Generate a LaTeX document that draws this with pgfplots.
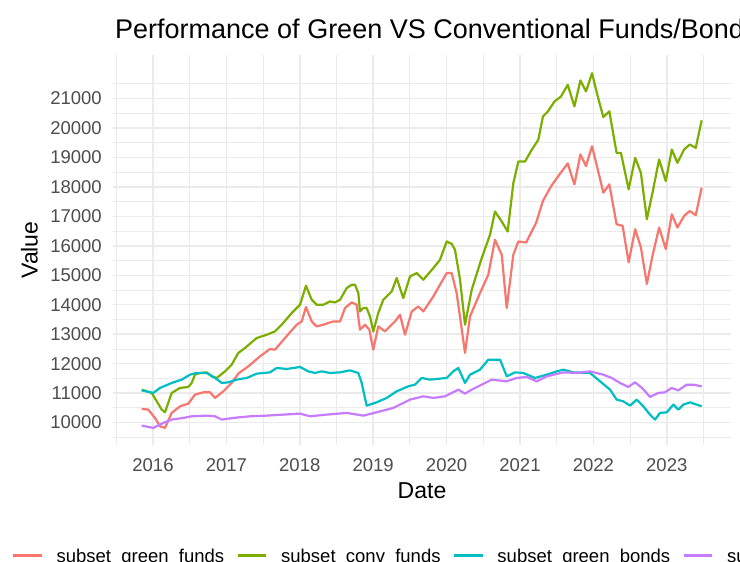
\documentclass[border=0pt]{standalone}
\usepackage{pgfplots}
\pgfplotsset{compat=1.18}
\usepackage{fontspec}
\setmainfont{Liberation Sans}
\definecolor{cRed}{HTML}{F8766D}
\definecolor{cGreen}{HTML}{7CAE00}
\definecolor{cCyan}{HTML}{00BFC4}
\definecolor{cPurple}{HTML}{C77CFF}
\definecolor{gridc}{HTML}{EBEBEB}
\definecolor{tickc}{HTML}{4D4D4D}
\begin{document}
\begin{tikzpicture}
\path[use as bounding box, fill=white] (0,0) rectangle (740bp,562bp);
\clip (0,0) rectangle (740bp,562bp);
\begin{axis}[
  at={(113.4bp,117bp)}, anchor=south west,
  width=617.2bp, height=390bp, scale only axis,
  xmin=2015.4605, xmax=2023.869,
  ymin=9240, ymax=22475,
  axis line style={draw=none},
  tick style={draw=none},
  xtick={2016,2017,...,2023},
  minor xtick={2015.5,2016.5,...,2023.5},
  ytick={10000,11000,...,21000},
  minor ytick={9500,10500,...,22000},
  grid=both,
  major grid style={gridc, line width=1.5bp},
  minor grid style={gridc, line width=0.8bp},
  scaled x ticks=false,
  scaled y ticks=false,
  /pgf/number format/assume math mode=true,
  /pgf/number format/1000 sep={},
  tick label style={font=\fontsize{18.5bp}{20bp}\selectfont, text=tickc, inner sep=0pt},
  yticklabel shift=11.5bp,
  xticklabel shift=13bp,
  xlabel={Date},
  ylabel={Value},
  label style={font=\fontsize{23bp}{26bp}\selectfont, inner sep=0pt},
  xlabel style={at={(axis description cs:0.5,-0.0949)}, anchor=north},
  ylabel style={at={(axis description cs:-0.1222,0.5)}, anchor=south},
  title={Performance of Green VS Conventional Funds/Bonds},
  title style={at={(axis description cs:0.0026,1.0282)}, anchor=base west, inner sep=0pt, font=\fontsize{27bp}{30bp}\selectfont},
  legend columns=4,
  legend style={at={(axis description cs:-0.16478,-0.3049)}, anchor=south west,
    draw=none, fill=none, inner sep=0pt, outer sep=0pt,
    nodes={inner sep=0pt}, font=\fontsize{18.5bp}{20bp}\selectfont,
    /tikz/every odd column/.append style={column sep=13.5bp},
    /tikz/every even column/.append style={column sep=12bp}},
  legend cell align=left,
  legend image code/.code={\draw[#1, line width=2.6bp] (0bp,1bp) -- (28.8bp,1bp);},
  every axis plot/.append style={line width=2.2bp, line join=round, no markers},
]
% subset green funds
\addplot[cRed] coordinates {
(2015.846,10464) (2015.936,10441) (2016.027,10159) (2016.095,9875) (2016.163,9820)
(2016.255,10329) (2016.368,10553) (2016.481,10644) (2016.572,10949) (2016.685,11027)
(2016.777,11027) (2016.845,10837) (2016.958,11061) (2017.072,11346) (2017.162,11661)
(2017.298,11909) (2017.458,12248) (2017.594,12498) (2017.662,12475) (2017.798,12871)
(2017.958,13322) (2018.026,13434) (2018.084,13922) (2018.162,13434) (2018.230,13265)
(2018.320,13322) (2018.456,13434) (2018.548,13434) (2018.616,13888) (2018.707,14078)
(2018.775,14000) (2018.820,13153) (2018.888,13322) (2018.947,13153) (2019.001,12475)
(2019.069,13265) (2019.161,13095) (2019.297,13434) (2019.365,13661) (2019.433,12983)
(2019.525,13773) (2019.614,13943) (2019.683,13773) (2019.819,14282) (2019.910,14678)
(2020.001,15075) (2020.069,15075) (2020.137,14397) (2020.251,12363) (2020.319,13604)
(2020.455,14397) (2020.568,15017) (2020.659,16204) (2020.751,15695) (2020.819,13888)
(2020.909,15695) (2020.977,16146) (2021.084,16112) (2021.221,16790) (2021.313,17526)
(2021.425,18027) (2021.538,18424) (2021.650,18794) (2021.741,18085) (2021.823,19099)
(2021.899,18705) (2021.981,19380) (2022.059,18590) (2022.135,17804) (2022.217,18085)
(2022.316,16732) (2022.398,16675) (2022.480,15437) (2022.569,16563) (2022.647,15946)
(2022.728,14705) (2022.805,15661) (2022.895,16621) (2022.986,15888) (2023.068,17071)
(2023.144,16621) (2023.236,17014) (2023.312,17183) (2023.394,17038) (2023.475,17973)
};
\addlegendentry{subset\_green\_funds}
% subset conv funds
\addplot[cGreen] coordinates {
(2015.846,11119) (2015.982,11007) (2016.119,10441) (2016.163,10349) (2016.255,11007)
(2016.368,11176) (2016.481,11210) (2016.527,11346) (2016.572,11627) (2016.640,11685)
(2016.732,11705) (2016.800,11570) (2016.868,11515) (2016.981,11739) (2017.072,11966)
(2017.162,12363) (2017.253,12532) (2017.413,12871) (2017.549,12983) (2017.662,13095)
(2017.753,13322) (2017.890,13719) (2018.003,14000) (2018.084,14644) (2018.162,14170)
(2018.230,14000) (2018.320,14000) (2018.411,14112) (2018.480,14078) (2018.548,14170)
(2018.639,14566) (2018.707,14678) (2018.752,14678) (2018.797,14397) (2018.820,13773)
(2018.865,13888) (2018.911,13888) (2018.956,13604) (2019.001,13095) (2019.069,13719)
(2019.138,14170) (2019.252,14451) (2019.320,14905) (2019.410,14227) (2019.501,14960)
(2019.593,15075) (2019.683,14848) (2019.819,15244) (2019.910,15526) (2020.001,16146)
(2020.069,16068) (2020.114,15865) (2020.183,14848) (2020.251,13322) (2020.342,14509)
(2020.478,15583) (2020.591,16373) (2020.659,17163) (2020.751,16824) (2020.832,16485)
(2020.909,18126) (2020.977,18858) (2021.068,18858) (2021.159,19255) (2021.249,19594)
(2021.313,20394) (2021.381,20563) (2021.470,20899) (2021.559,21068) (2021.650,21462)
(2021.741,20733) (2021.823,21611) (2021.899,21238) (2021.981,21858) (2022.059,21068)
(2022.135,20370) (2022.217,20563) (2022.316,19153) (2022.375,19153) (2022.480,17916)
(2022.569,18984) (2022.647,18475) (2022.728,16902) (2022.805,17804) (2022.895,18929)
(2022.986,18197) (2023.068,19268) (2023.144,18814) (2023.236,19268) (2023.312,19438)
(2023.394,19323) (2023.475,20258)
};
\addlegendentry{subset\_conv\_funds}
% subset green bonds
\addplot[cCyan] coordinates {
(2015.846,11095) (2016.004,11007) (2016.095,11176) (2016.255,11346) (2016.391,11458)
(2016.504,11627) (2016.595,11685) (2016.732,11685) (2016.845,11515) (2016.936,11346)
(2017.026,11366) (2017.140,11458) (2017.277,11515) (2017.413,11661) (2017.594,11705)
(2017.685,11854) (2017.822,11820) (2018.003,11888) (2018.116,11739) (2018.207,11685)
(2018.298,11739) (2018.411,11685) (2018.548,11705) (2018.684,11773) (2018.797,11685)
(2018.843,11346) (2018.911,10576) (2019.047,10688) (2019.184,10837) (2019.320,11061)
(2019.478,11231) (2019.569,11288) (2019.661,11515) (2019.774,11458) (2020.001,11515)
(2020.091,11739) (2020.159,11854) (2020.251,11346) (2020.319,11627) (2020.455,11797)
(2020.568,12136) (2020.728,12136) (2020.819,11570) (2020.932,11705) (2021.045,11685)
(2021.204,11515) (2021.364,11627) (2021.500,11739) (2021.590,11797) (2021.726,11705)
(2021.954,11685) (2022.090,11400) (2022.226,11119) (2022.317,10780) (2022.407,10722)
(2022.499,10576) (2022.590,10780) (2022.680,10553) (2022.771,10271) (2022.839,10102)
(2022.907,10329) (2022.999,10349) (2023.089,10610) (2023.157,10441) (2023.225,10610)
(2023.316,10688) (2023.407,10610) (2023.475,10553)
};
\addlegendentry{subset\_green\_bonds}
% subset conv bonds
\addplot[cPurple] coordinates {
(2015.846,9898) (2016.004,9820) (2016.140,9990) (2016.255,10102) (2016.413,10159)
(2016.527,10214) (2016.732,10237) (2016.845,10214) (2016.936,10102) (2017.094,10159)
(2017.322,10214) (2017.549,10237) (2017.775,10271) (2018.003,10305) (2018.139,10214)
(2018.366,10271) (2018.639,10329) (2018.865,10237) (2019.047,10349) (2019.274,10498)
(2019.365,10610) (2019.501,10780) (2019.683,10892) (2019.819,10837) (2019.978,10892)
(2020.159,11119) (2020.251,10983) (2020.342,11119) (2020.478,11288) (2020.614,11458)
(2020.819,11400) (2020.955,11515) (2021.091,11549) (2021.227,11400) (2021.364,11570)
(2021.590,11705) (2021.772,11685) (2021.954,11739) (2022.135,11627) (2022.249,11515)
(2022.362,11346) (2022.475,11210) (2022.567,11366) (2022.662,11176) (2022.771,10871)
(2022.884,11007) (2022.975,11027) (2023.066,11176) (2023.157,11095) (2023.271,11288)
(2023.362,11288) (2023.475,11231)
};
\addlegendentry{subset\_conv\_bonds}
\end{axis}
\end{tikzpicture}
\end{document}
